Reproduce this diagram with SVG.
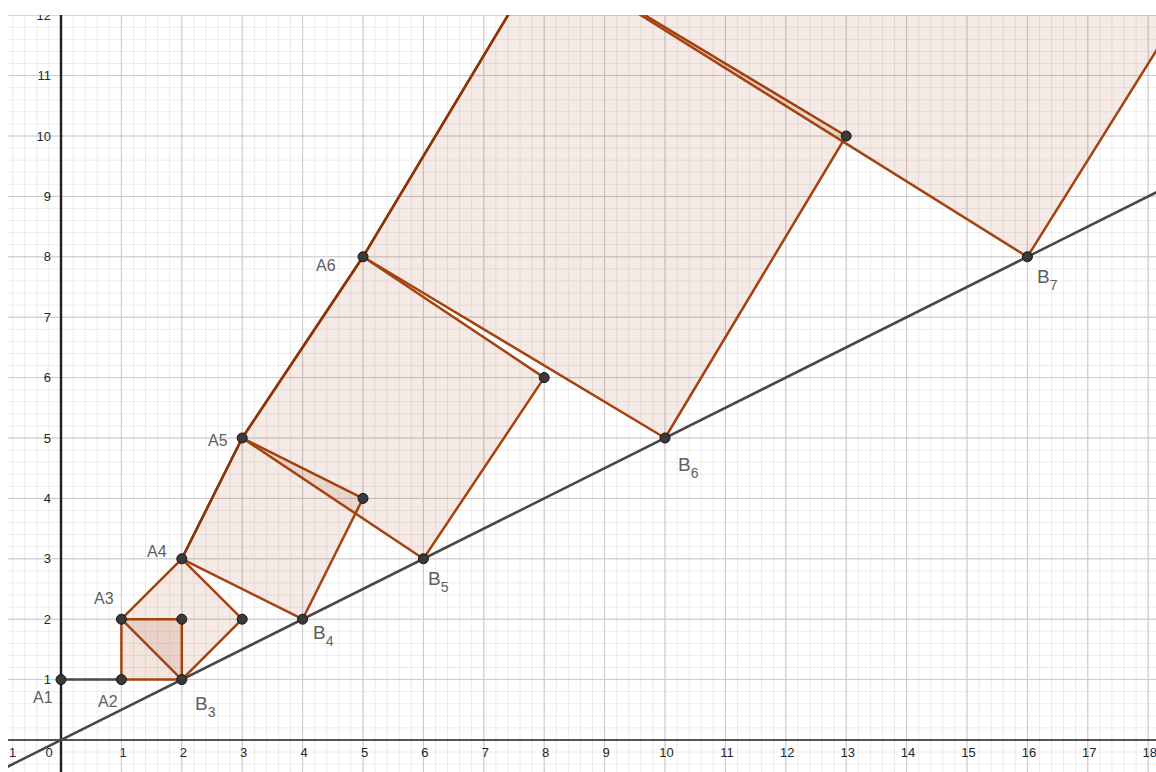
<svg xmlns="http://www.w3.org/2000/svg" width="1156" height="772" viewBox="0 0 1156 772">
<style>
.minor{stroke:#ebebeb;stroke-width:1;fill:none}
.major{stroke:#c8c8c8;stroke-width:1;fill:none}
.axis{stroke:#1e1e1e;fill:none}
.sq{fill:#993300;fill-opacity:0.1;stroke:#a4430f;stroke-width:2.5;stroke-linejoin:round}
.sq1{fill-opacity:0.13}
.chain{fill:none;stroke:#8c3509;stroke-width:2.5;stroke-linejoin:round}
.gray{stroke:#474747;stroke-width:2.5;fill:none}
.pt{fill:#3a3a3a;stroke:#141414;stroke-width:1}
.num{font-family:"Liberation Sans",Arial,sans-serif;font-size:13px;fill:#262626}
.lbl{font-family:"Liberation Sans",Arial,sans-serif;font-size:16px;fill:#5f5f5f}
.blbl{font-family:"Liberation Sans",Arial,sans-serif;font-size:19px;fill:#5f5f5f}
.sub{font-size:14px}
</style>
<defs>
<clipPath id="plot"><rect x="8" y="15" width="1148" height="757"/></clipPath>
<pattern id="mg" patternUnits="userSpaceOnUse" x="60.5" y="739.5" width="12.08" height="12.08">
<path d="M0,0.5 H12.08 M0.5,0 V12.08" class="minor"/>
</pattern>
</defs>
<rect x="0" y="0" width="1156" height="772" fill="#ffffff"/>
<g clip-path="url(#plot)">
<g id="grid">
<rect x="0" y="0" width="1156" height="772" fill="url(#mg)"/>
<path class="major" d="M0.6,0V772M121.4,0V772M181.8,0V772M242.2,0V772M302.6,0V772M363,0V772M423.4,0V772M483.8,0V772M544.2,0V772M604.6,0V772M665,0V772M725.4,0V772M785.8,0V772M846.2,0V772M906.6,0V772M967,0V772M1027.4,0V772M1087.8,0V772M1148.2,0V772
M0,679.6H1156M0,619.2H1156M0,558.8H1156M0,498.4H1156M0,438H1156M0,377.6H1156M0,317.2H1156M0,256.8H1156M0,196.4H1156M0,136H1156M0,75.6H1156M0,15.2H1156"/>
</g>
<g id="axes">
<path class="axis" stroke-width="1.6" d="M0,740H1156"/>
<path class="axis" stroke-width="2.4" d="M61,0V772"/>
</g>
<g id="axis-labels" class="num">
<text x="12.5" y="757" text-anchor="middle">1</text>
<text x="49" y="757" text-anchor="middle">0</text>
<text x="123" y="757" text-anchor="middle">1</text>
<text x="183.3" y="757" text-anchor="middle">2</text>
<text x="243.7" y="757" text-anchor="middle">3</text>
<text x="304.1" y="757" text-anchor="middle">4</text>
<text x="364.5" y="757" text-anchor="middle">5</text>
<text x="424.9" y="757" text-anchor="middle">6</text>
<text x="485.3" y="757" text-anchor="middle">7</text>
<text x="545.7" y="757" text-anchor="middle">8</text>
<text x="606.1" y="757" text-anchor="middle">9</text>
<text x="666.5" y="757" text-anchor="middle">10</text>
<text x="726.9" y="757" text-anchor="middle">11</text>
<text x="787.3" y="757" text-anchor="middle">12</text>
<text x="847.7" y="757" text-anchor="middle">13</text>
<text x="908.1" y="757" text-anchor="middle">14</text>
<text x="968.5" y="757" text-anchor="middle">15</text>
<text x="1028.9" y="757" text-anchor="middle">16</text>
<text x="1089.3" y="757" text-anchor="middle">17</text>
<text x="1149.7" y="757" text-anchor="middle">18</text>
<text x="51" y="684.2" text-anchor="end">1</text>
<text x="51" y="623.8" text-anchor="end">2</text>
<text x="51" y="563.4" text-anchor="end">3</text>
<text x="51" y="503" text-anchor="end">4</text>
<text x="51" y="442.6" text-anchor="end">5</text>
<text x="51" y="382.2" text-anchor="end">6</text>
<text x="51" y="321.8" text-anchor="end">7</text>
<text x="51" y="261.4" text-anchor="end">8</text>
<text x="51" y="201" text-anchor="end">9</text>
<text x="51" y="140.6" text-anchor="end">10</text>
<text x="51" y="80.2" text-anchor="end">11</text>
<text x="51" y="19.8" text-anchor="end">12</text>
</g>
<g id="connectors">
<path id="line-y-half-x" class="gray" d="M-10,775.5L1170,185.5"/>
<path id="seg-A1-A2" class="gray" d="M61,679.6H121.4"/>
</g>
<g id="square1"><polygon class="sq sq1" points="121.4,679.6 181.8,679.6 181.8,619.2 121.4,619.2"/></g>
<g id="square2"><polygon class="sq" points="121.4,619.2 181.8,679.6 242.2,619.2 181.8,558.8"/></g>
<g id="square3"><polygon class="sq" points="181.8,558.8 302.6,619.2 363,498.4 242.2,438"/></g>
<g id="square4"><polygon class="sq" points="242.2,438 423.4,558.8 544.2,377.6 363,256.8"/></g>
<g id="square5"><polygon class="sq" points="363,256.8 665,438 846.2,136 544.2,-45.2"/></g>
<g id="square6"><polygon class="sq" points="544.2,-45.2 1027.4,256.8 1329.4,-226.4 846.2,-528.4"/></g>
<g id="chain"><path class="chain" d="M181.8,558.8L242.2,438L363,256.8L544.2,-45.2"/></g>
<g id="points">
<g id="A1"><circle class="pt" cx="61" cy="679.6" r="5"/><text class="lbl" x="33" y="703">A1</text></g>
<g id="A2"><circle class="pt" cx="121.4" cy="679.6" r="5"/><text class="lbl" x="98" y="707">A2</text></g>
<g id="A3"><circle class="pt" cx="121.4" cy="619.2" r="5"/><text class="lbl" x="94" y="604">A3</text></g>
<g id="P22"><circle class="pt" cx="181.8" cy="619.2" r="5"/></g>
<g id="B3"><circle class="pt" cx="181.8" cy="679.6" r="5"/><text class="blbl" x="195" y="710">B<tspan class="sub" dy="7">3</tspan></text></g>
<g id="P32"><circle class="pt" cx="242.2" cy="619.2" r="5"/></g>
<g id="A4"><circle class="pt" cx="181.8" cy="558.8" r="5"/><text class="lbl" x="147" y="557">A4</text></g>
<g id="B4"><circle class="pt" cx="302.6" cy="619.2" r="5"/><text class="blbl" x="313" y="639">B<tspan class="sub" dy="7">4</tspan></text></g>
<g id="P54"><circle class="pt" cx="363" cy="498.4" r="5"/></g>
<g id="A5"><circle class="pt" cx="242.2" cy="438" r="5"/><text class="lbl" x="208" y="446">A5</text></g>
<g id="B5"><circle class="pt" cx="423.4" cy="558.8" r="5"/><text class="blbl" x="428" y="585">B<tspan class="sub" dy="7">5</tspan></text></g>
<g id="P86"><circle class="pt" cx="544.2" cy="377.6" r="5"/></g>
<g id="A6"><circle class="pt" cx="363" cy="256.8" r="5"/><text class="lbl" x="316" y="271">A6</text></g>
<g id="B6"><circle class="pt" cx="665" cy="438" r="5"/><text class="blbl" x="678" y="471">B<tspan class="sub" dy="7">6</tspan></text></g>
<g id="P1310"><circle class="pt" cx="846.2" cy="136" r="5"/></g>
<g id="B7"><circle class="pt" cx="1027.4" cy="256.8" r="5"/><text class="blbl" x="1037" y="283">B<tspan class="sub" dy="7">7</tspan></text></g>
</g>
</g>
</svg>
